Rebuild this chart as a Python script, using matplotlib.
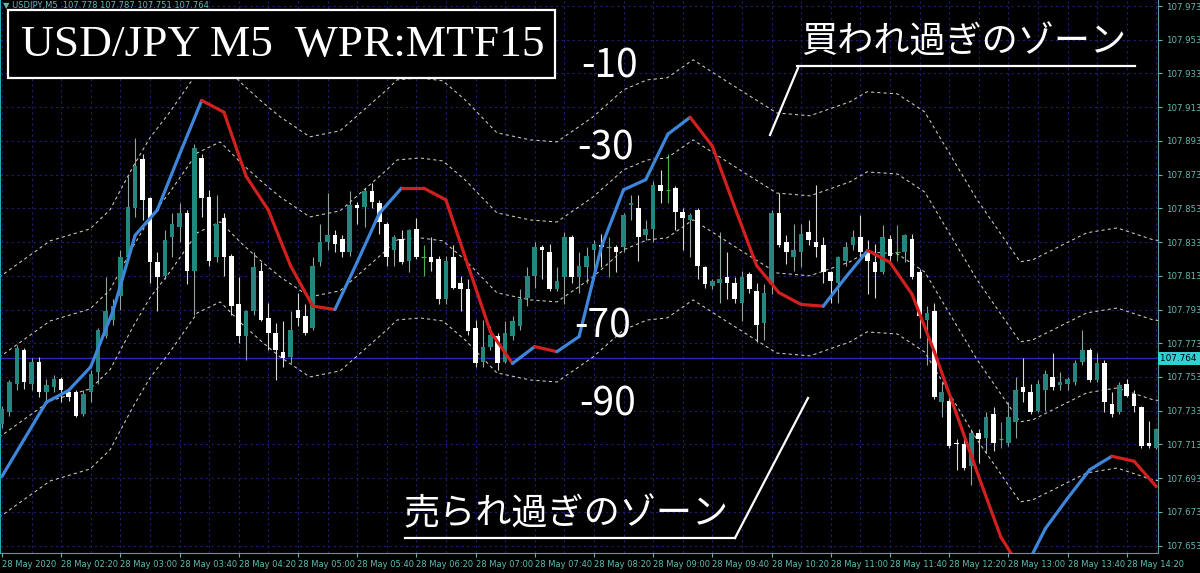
import numpy as np
import matplotlib.pyplot as plt
from matplotlib.patches import Rectangle
from matplotlib.lines import Line2D

# ---- data (USDJPY M5, 28 May 2020) ----
opens = [107.725, 107.732, 107.749, 107.769, 107.749, 107.762, 107.744, 107.747, 107.752, 107.744,
         107.744, 107.731, 107.744, 107.756, 107.777, 107.787, 107.801, 107.824, 107.853, 107.882,
         107.859, 107.821, 107.813, 107.836, 107.842, 107.850, 107.816, 107.883, 107.860, 107.824,
         107.847, 107.825, 107.796, 107.777, 107.792, 107.816, 107.788, 107.779, 107.768, 107.765,
         107.793, 107.789, 107.782, 107.821, 107.833, 107.837, 107.835, 107.827, 107.855, 107.854,
         107.863, 107.856, 107.844, 107.828, 107.835, 107.822, 107.841, 107.824, 107.824, 107.823,
         107.799, 107.824, 107.809, 107.805, 107.782, 107.762, 107.771, 107.777, 107.762, 107.777,
         107.783, 107.800, 107.813, 107.830, 107.827, 107.805, 107.812, 107.836, 107.812, 107.818,
         107.828, 107.831, 107.830, 107.830, 107.830, 107.855, 107.853, 107.837, 107.841, 107.867,
         107.864, 107.865, 107.851, 107.846, 107.852, 107.818, 107.807, 107.809, 107.812, 107.809,
         107.797, 107.814, 107.804, 107.785, 107.808, 107.850, 107.833, 107.824, 107.827, 107.839,
         107.833, 107.831, 107.815, 107.809, 107.822, 107.831, 107.836, 107.827, 107.821, 107.815,
         107.835, 107.827, 107.827, 107.835, 107.815, 107.787, 107.792, 107.738, 107.739, 107.714,
         107.713, 107.700, 107.720, 107.717, 107.731, 107.716, 107.714, 107.726, 107.747, 107.744,
         107.733, 107.745, 107.753, 107.748, 107.749, 107.750, 107.762, 107.769, 107.751, 107.761,
         107.737, 107.732, 107.749, 107.743, 107.735, 107.714, 107.711]
highs = [107.736, 107.751, 107.772, 107.770, 107.764, 107.765, 107.752, 107.754, 107.753, 107.746,
         107.745, 107.745, 107.757, 107.782, 107.812, 107.799, 107.828, 107.872, 107.895, 107.885,
         107.860, 107.827, 107.840, 107.850, 107.856, 107.852, 107.891, 107.885, 107.864, 107.861,
         107.850, 107.826, 107.812, 107.793, 107.827, 107.821, 107.797, 107.785, 107.786, 107.792,
         107.803, 107.796, 107.824, 107.844, 107.862, 107.840, 107.837, 107.863, 107.857, 107.865,
         107.868, 107.858, 107.845, 107.837, 107.840, 107.841, 107.847, 107.831, 107.836, 107.825,
         107.825, 107.831, 107.813, 107.811, 107.787, 107.787, 107.783, 107.779, 107.786, 107.789,
         107.805, 107.818, 107.833, 107.831, 107.832, 107.818, 107.839, 107.837, 107.827, 107.830,
         107.834, 107.838, 107.836, 107.831, 107.850, 107.861, 107.861, 107.846, 107.869, 107.876,
         107.885, 107.866, 107.853, 107.850, 107.853, 107.819, 107.811, 107.839, 107.827, 107.812,
         107.816, 107.815, 107.809, 107.808, 107.852, 107.862, 107.837, 107.844, 107.844, 107.846,
         107.867, 107.836, 107.816, 107.825, 107.833, 107.840, 107.849, 107.834, 107.832, 107.843,
         107.837, 107.843, 107.838, 107.838, 107.817, 107.795, 107.797, 107.750, 107.741, 107.716,
         107.716, 107.722, 107.722, 107.732, 107.735, 107.726, 107.738, 107.753, 107.764, 107.749,
         107.751, 107.757, 107.767, 107.756, 107.753, 107.763, 107.781, 107.770, 107.767, 107.763,
         107.744, 107.750, 107.752, 107.745, 107.736, 107.727, 107.723]
lows = [107.723, 107.730, 107.745, 107.746, 107.745, 107.741, 107.738, 107.744, 107.738, 107.739,
        107.729, 107.730, 107.738, 107.749, 107.776, 107.784, 107.793, 107.822, 107.848, 107.846,
        107.809, 107.792, 107.811, 107.824, 107.833, 107.808, 107.790, 107.848, 107.819, 107.821,
        107.813, 107.790, 107.773, 107.763, 107.790, 107.786, 107.769, 107.751, 107.759, 107.761,
        107.783, 107.778, 107.781, 107.819, 107.828, 107.827, 107.824, 107.825, 107.844, 107.842,
        107.853, 107.838, 107.819, 107.819, 107.820, 107.815, 107.823, 107.813, 107.816, 107.796,
        107.796, 107.805, 107.792, 107.778, 107.759, 107.759, 107.769, 107.757, 107.761, 107.775,
        107.781, 107.795, 107.806, 107.811, 107.804, 107.804, 107.796, 107.809, 107.803, 107.809,
        107.812, 107.818, 107.812, 107.815, 107.827, 107.846, 107.822, 107.834, 107.833, 107.856,
        107.856, 107.840, 107.828, 107.824, 107.811, 107.806, 107.805, 107.797, 107.799, 107.797,
        107.786, 107.803, 107.774, 107.775, 107.802, 107.830, 107.820, 107.816, 107.818, 107.831,
        107.824, 107.809, 107.797, 107.797, 107.819, 107.828, 107.824, 107.802, 107.800, 107.814,
        107.822, 107.822, 107.821, 107.811, 107.776, 107.760, 107.740, 107.729, 107.711, 107.698,
        107.698, 107.689, 107.702, 107.708, 107.709, 107.711, 107.712, 107.717, 107.738, 107.731,
        107.732, 107.733, 107.745, 107.745, 107.745, 107.748, 107.760, 107.750, 107.750, 107.732,
        107.729, 107.731, 107.741, 107.732, 107.711, 107.711, 107.710]
closes = [107.734, 107.750, 107.770, 107.750, 107.762, 107.744, 107.748, 107.752, 107.745, 107.741,
          107.730, 107.743, 107.755, 107.781, 107.792, 107.795, 107.824, 107.854, 107.878, 107.858,
          107.821, 107.812, 107.834, 107.844, 107.850, 107.816, 107.889, 107.859, 107.822, 107.844,
          107.824, 107.795, 107.777, 107.792, 107.818, 107.787, 107.779, 107.769, 107.764, 107.781,
          107.788, 107.779, 107.819, 107.833, 107.837, 107.832, 107.827, 107.855, 107.853, 107.863,
          107.857, 107.845, 107.824, 107.836, 107.821, 107.840, 107.824, 107.824, 107.821, 107.799,
          107.822, 107.806, 107.805, 107.780, 107.761, 107.771, 107.778, 107.761, 107.779, 107.786,
          107.799, 107.813, 107.830, 107.828, 107.805, 107.810, 107.836, 107.812, 107.819, 107.825,
          107.832, 107.830, 107.830, 107.827, 107.849, 107.856, 107.836, 107.841, 107.867, 107.863,
          107.864, 107.851, 107.847, 107.849, 107.819, 107.808, 107.810, 107.811, 107.809, 107.799,
          107.812, 107.805, 107.784, 107.803, 107.850, 107.831, 107.827, 107.828, 107.838, 107.834,
          107.830, 107.815, 107.810, 107.824, 107.830, 107.836, 107.827, 107.822, 107.815, 107.836,
          107.825, 107.827, 107.837, 107.812, 107.789, 107.791, 107.741, 107.744, 107.712, 107.713,
          107.699, 107.720, 107.716, 107.729, 107.714, 107.716, 107.729, 107.745, 107.744, 107.732,
          107.749, 107.755, 107.747, 107.750, 107.752, 107.761, 107.769, 107.751, 107.761, 107.738,
          107.731, 107.748, 107.742, 107.736, 107.712, 107.712, 107.722]

# WPR MTF15 line (one point per 15 min = every 3rd bar), in price scale
wpr_bar = list(range(0, 157, 3))
wpr_val = [107.694, 107.716, 107.738, 107.745, 107.759, 107.792, 107.837, 107.852, 107.885, 107.917,
           107.910, 107.872, 107.852, 107.819, 107.795, 107.793, 107.821, 107.850, 107.865, 107.865,
           107.858, 107.819, 107.780, 107.761, 107.771, 107.768, 107.777, 107.830, 107.864, 107.870,
           107.897, 107.907, 107.890, 107.854, 107.819, 107.803, 107.796, 107.795, 107.812, 107.828,
           107.821, 107.802, 107.768, 107.731, 107.694, 107.658, 107.637, 107.663, 107.681, 107.698,
           107.706, 107.703, 107.688]

# level band centre (dashed -10/-30/-70/-90 lines sit around it)
band_bar = [-1, 6.5, 11.9, 14.6, 17.7, 20.0, 22.7, 26.4, 29.5, 32.6, 35.3, 37.6, 41.6, 45.7, 52.0,
            53.4, 56.5, 59.6, 62.6, 66.9, 71.4, 75.0, 79.9, 84.0, 87.2, 89.9, 93.4, 99.3, 104.7,
            109.2, 114.6, 116.9, 121.0, 124.7, 131.8, 137.6, 139.3, 146.6, 150.7, 155.6, 158]
band_mid = [107.739, 107.7625, 107.7696, 107.7809, 107.8064, 107.8236, 107.8390, 107.8622, 107.8687,
            107.8550, 107.8444, 107.8361, 107.8242, 107.8278, 107.8521, 107.8580, 107.8592, 107.8574,
            107.8461, 107.8266, 107.8224, 107.8212, 107.8361, 107.8521, 107.8580, 107.8592, 107.8699,
            107.8533, 107.8384, 107.8367, 107.8450, 107.8509, 107.8497, 107.8390, 107.7868, 107.7501,
            107.7513, 107.7673, 107.7702, 107.7631, 107.762]
levels = ['-10', '-30', '-70', '-90']
level_offset = [0.0712, 0.0237, -0.0237, -0.0712]

price_ticks = [107.653, 107.673, 107.693, 107.713, 107.733, 107.753, 107.773, 107.793, 107.813,
               107.833, 107.853, 107.873, 107.893, 107.913, 107.933, 107.953, 107.973]
time_ticks = list(range(0, 157, 8))
time_labels = ['28 May 2020', '28 May 02:20', '28 May 03:00', '28 May 03:40', '28 May 04:20',
               '28 May 05:00', '28 May 05:40', '28 May 06:20', '28 May 07:00', '28 May 07:40',
               '28 May 08:20', '28 May 09:00', '28 May 09:40', '28 May 10:20', '28 May 11:00',
               '28 May 11:40', '28 May 12:20', '28 May 13:00', '28 May 13:40', '28 May 14:20']
last_price = 107.764
header = '▼ USDJPY,M5  107.778 107.787 107.751 107.764'

# ---- figure ----
W, H = 1200, 573
AXW, AXH = 1158, 553
fig = plt.figure(figsize=(W / 100, H / 100), dpi=100, facecolor='black')
ax = fig.add_axes([0, (H - AXH) / H, AXW / W, AXH / H])
ax.set_facecolor('black')
ax.set_xlim(-0.26, 156.23)
ax.set_ylim(107.6486, 107.97656)

def axp(px, py):
    # pixel position inside the plot area -> axes fraction
    return px / AXW, 1 - py / AXH

tick_col = '#63b9b0'
grid_col = '#1e1e78'

# grid
for p in price_ticks:
    ax.axhline(p, color=grid_col, lw=0.8, ls=(0, (2, 3)), zorder=0)
for b in range(0, 160, 4):
    ax.axvline(b, color=grid_col, lw=0.8, ls=(0, (2, 3)), zorder=0)

# current price line
ax.axhline(last_price, color='#2626b8', lw=1.0, zorder=1)

# candles
up_col = '#23877f'
for i in range(len(opens)):
    o, h, l, c = opens[i], highs[i], lows[i], closes[i]
    if abs(c - o) < 1e-9:
        ax.vlines(i, l, h, color='#4caf50', lw=0.8, zorder=2)
        ax.hlines(o, i - 0.3, i + 0.3, color='#4caf50', lw=0.9, zorder=2)
        continue
    col = up_col if c > o else 'white'
    wick = '#8fa5a2' if c > o else '#d8d8d8'
    ax.vlines(i, l, h, color=wick, lw=0.8, zorder=2)
    ax.bar(i, abs(c - o), bottom=min(o, c), width=0.6, color=col, lw=0, zorder=3)

# dashed level lines
bm = np.array(band_mid)
for lev, off in zip(levels, level_offset):
    ax.plot(band_bar, bm + off, color='#cfcfbf', lw=0.75, ls=(0, (3, 3)), zorder=2)

# WPR line, blue while rising, red while falling
for k in range(len(wpr_bar) - 1):
    col = '#3d86d9' if wpr_val[k + 1] > wpr_val[k] else '#d21f1f'
    ax.plot(wpr_bar[k:k + 2], wpr_val[k:k + 2], color=col, lw=2.3,
            solid_capstyle='round', zorder=4)

# axes styling
ax.spines['top'].set_visible(False)
ax.spines['left'].set_color('#20b0b0')
ax.spines['left'].set_linewidth(1.5)
ax.spines['right'].set_color('#5f9a98')
ax.spines['bottom'].set_color('#5f9a98')
ax.yaxis.tick_right()
ax.set_yticks(price_ticks)
ax.set_yticklabels([f'{p:.3f}' for p in price_ticks])
ax.set_xticks(time_ticks)
ax.set_xticklabels(time_labels)
ax.tick_params(axis='y', colors=tick_col, labelsize=6.2, length=3, pad=3)
ax.tick_params(axis='x', colors=tick_col, labelsize=6, length=3, pad=2)
for lab in ax.get_xticklabels():
    lab.set_ha('left')

# current price tag on the axis
ax.text(1.0018, last_price, f'{last_price:.3f} ', transform=ax.get_yaxis_transform(),
        ha='left', va='center', fontsize=6.4, color='black',
        bbox=dict(boxstyle='square,pad=0.25', fc='#2fd2d2', ec='none'), zorder=10, clip_on=False)

# header line
ax.text(*axp(3, 5), header, transform=ax.transAxes, fontsize=6, color=tick_col,
        ha='left', va='center', zorder=6)

# title box
x0, y0 = axp(8, 78)
x1, y1 = axp(555, 10)
ax.add_patch(Rectangle((x0, y0), x1 - x0, y1 - y0, transform=ax.transAxes,
                       fc='black', ec='white', lw=1.6, zorder=7))
ax.text(*axp(21, 45), 'USD/JPY M5  WPR:MTF15', transform=ax.transAxes,
        fontsize=32.7, family='Liberation Serif', color='white', ha='left', va='center', zorder=8)

# level labels
jp = ['Noto Sans CJK JP', 'DejaVu Sans']
for txt, (px, py) in zip(levels, [(610, 67), (606, 149), (603, 326), (608, 404)]):
    ax.text(*axp(px, py), txt, transform=ax.transAxes, fontsize=28, family=jp,
            color='white', ha='center', va='center', zorder=8)

# zone annotations
ax.text(*axp(964, 43), '買われ過ぎのゾーン', transform=ax.transAxes, fontsize=26, family=jp,
        color='white', ha='center', va='center', zorder=8)
ax.text(*axp(566, 514), '売られ過ぎのゾーン', transform=ax.transAxes, fontsize=26, family=jp,
        color='white', ha='center', va='center', zorder=8)
for pts in [[(797, 66), (1135, 66)], [(798, 68), (770, 135)],
            [(405, 538), (735, 538)], [(735, 538), (808, 398)]]:
    (xa, ya), (xb, yb) = axp(*pts[0]), axp(*pts[1])
    ax.add_line(Line2D([xa, xb], [ya, yb], transform=ax.transAxes, color='white',
                       lw=1.6, zorder=8))

fig.savefig('out.png', dpi=100, facecolor='black')
